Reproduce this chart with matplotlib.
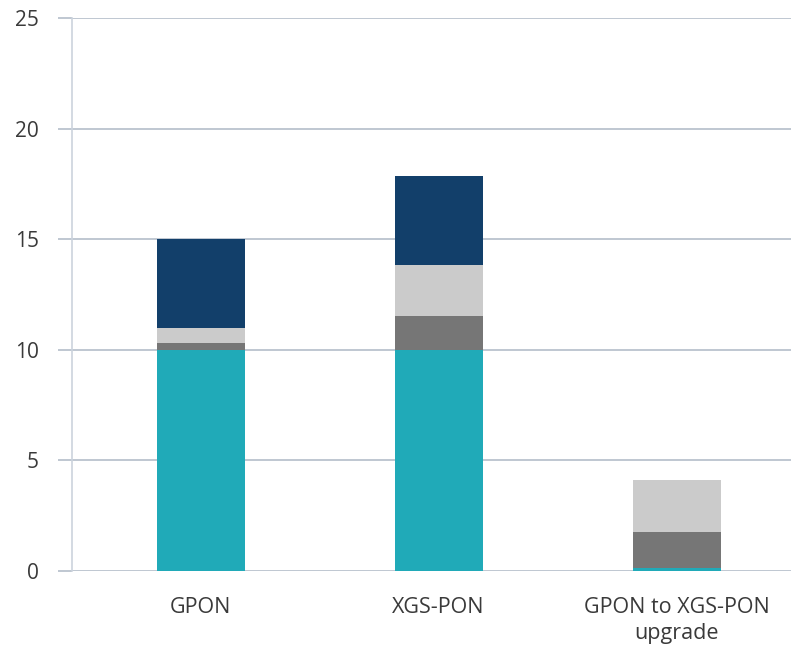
import matplotlib.pyplot as plt
import numpy as np

plt.rcParams['font.family'] = ['Open Sans', 'DejaVu Sans']

categories = ['GPON', 'XGS-PON', 'GPON to XGS-PON\nupgrade']
teal_vals = [10.0, 10.0, 0.15]
darkgray_vals = [0.3, 1.55, 1.6]
lightgray_vals = [0.7, 2.3, 2.35]
navy_vals = [4.0, 4.0, 0.0]

series = [teal_vals, darkgray_vals, lightgray_vals, navy_vals]
colors = ['#20aab8', '#767676', '#cbcbcb', '#123f6a']

fig = plt.figure(figsize=(7.96, 6.55), dpi=100)
ax = fig.add_axes([72 / 796, 1 - 571 / 655, (791 - 72) / 796, (571 - 18) / 655])

x = np.arange(len(categories))
bottom = np.zeros(len(categories))
for vals, col in zip(series, colors):
    ax.bar(x, vals, width=0.37, bottom=bottom, color=col, zorder=3)
    bottom += np.array(vals)

grid_col = '#b4bdca'
ax.set_ylim(0, 25)
ax.set_xlim(-0.54, 2.48)
ax.set_yticks(np.arange(0, 26, 5))
ax.yaxis.grid(True, color=grid_col, linewidth=1.2, zorder=0)
ax.tick_params(axis='y', length=10, width=1.2, color=grid_col, pad=14,
               labelsize=15, labelcolor='#3a3a3a')
ax.set_xticks(x)
ax.set_xticklabels(categories, linespacing=1.3)
ax.tick_params(axis='x', length=0, pad=19, labelsize=15.5, labelcolor='#3a3a3a')

for s in ['top', 'right', 'bottom']:
    ax.spines[s].set_visible(False)
ax.spines['left'].set_color('#ccd3dd')
ax.spines['left'].set_linewidth(1.2)

fig.savefig('out.png', dpi=100)
